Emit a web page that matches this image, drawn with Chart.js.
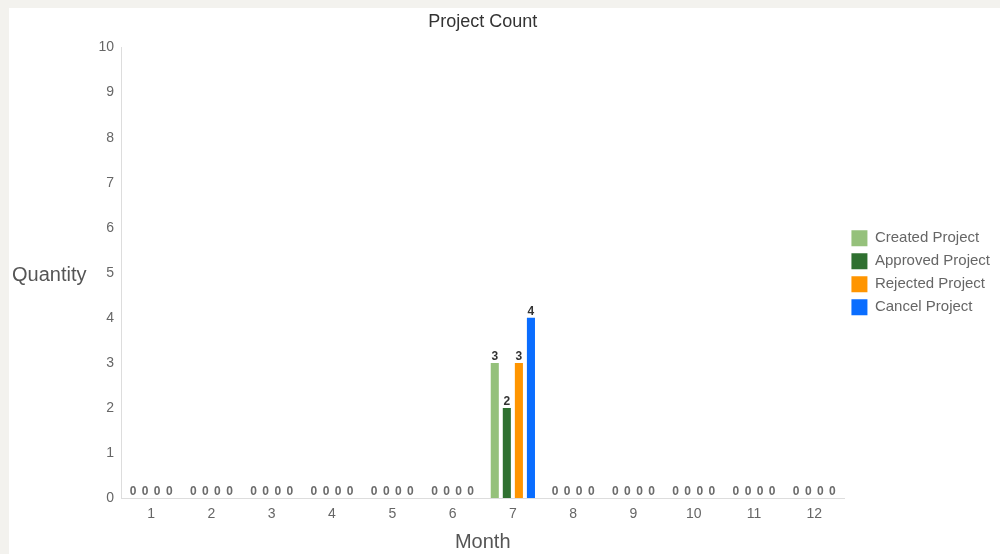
<!DOCTYPE html>
<html lang="en">
<head>
  <meta charset="UTF-8">
  <title>Project Count</title>
  <script src="https://cdn.jsdelivr.net/npm/chart.js@4.4.1/dist/chart.umd.min.js"></script>
  <style>
    html, body { margin: 0; padding: 0; background: #f3f2ee; }
    #panel { position: absolute; left: 9px; top: 8px; width: 991px; height: 546px; background: #fff; }
  </style>
</head>
<body>
  <div id="panel"><canvas id="projectChart"></canvas></div>

  <script>
    // monthly counts per project status
    const months = ['1', '2', '3', '4', '5', '6', '7', '8', '9', '10', '11', '12'];
    const createdProject  = [0, 0, 0, 0, 0, 0, 3, 0, 0, 0, 0, 0];
    const approvedProject = [0, 0, 0, 0, 0, 0, 2, 0, 0, 0, 0, 0];
    const rejectedProject = [0, 0, 0, 0, 0, 0, 3, 0, 0, 0, 0, 0];
    const cancelProject   = [0, 0, 0, 0, 0, 0, 4, 0, 0, 0, 0, 0];
    const yMin = 0, yMax = 10, yStep = 1;

    const FONT = "'Liberation Sans', Arial, Helvetica, sans-serif";

    // value printed on top of every bar (zeros sit on the axis)
    const barValues = {
      id: 'barValues',
      afterDatasetsDraw(chart) {
        const ctx = chart.ctx;
        ctx.save();
        ctx.font = 'bold 12px ' + FONT;
        ctx.textAlign = 'center';
        ctx.textBaseline = 'bottom';
        chart.data.datasets.forEach((ds, i) => {
          chart.getDatasetMeta(i).data.forEach((bar, j) => {
            const v = ds.data[j];
            ctx.fillStyle = v === 0 ? '#6b6b6b' : '#333';
            ctx.fillText(String(v), bar.x, bar.y);
          });
        });
        ctx.restore();
      }
    };

    // horizontal y axis caption on the left
    const sideCaption = {
      id: 'sideCaption',
      afterDraw(chart) {
        const ctx = chart.ctx;
        const a = chart.chartArea;
        ctx.save();
        ctx.font = '20px ' + FONT;
        ctx.fillStyle = '#555';
        ctx.textAlign = 'left';
        ctx.textBaseline = 'middle';
        ctx.fillText('Quantity', 3, (a.top + a.bottom) / 2 + 3);
        ctx.restore();
      }
    };

    const ctx = document.getElementById('projectChart').getContext('2d');
    new Chart(ctx, {
      type: 'bar',
      data: {
        labels: months,
        datasets: [
          { label: 'Created Project',  data: createdProject,  backgroundColor: '#95c17b' },
          { label: 'Approved Project', data: approvedProject, backgroundColor: '#2f7030' },
          { label: 'Rejected Project', data: rejectedProject, backgroundColor: '#ff9500' },
          { label: 'Cancel Project',   data: cancelProject,   backgroundColor: '#0a6dff' }
        ]
      },
      options: {
        responsive: true,
        maintainAspectRatio: false,
        animation: false,
        datasets: {
          bar: { categoryPercentage: 0.8, barPercentage: 0.67, borderWidth: 0 }
        },
        layout: { padding: 0 },
        plugins: {
          title: {
            display: true,
            text: 'Project Count',
            fullSize: false,
            color: '#333',
            font: { family: FONT, size: 18, weight: 'normal' },
            padding: { top: 3, bottom: 15 }
          },
          legend: {
            position: 'right',
            fullSize: false,
            labels: {
              color: '#666',
              font: { family: FONT, size: 15 },
              boxWidth: 16,
              boxHeight: 16,
              padding: 7
            }
          },
          tooltip: { enabled: false }
        },
        scales: {
          x: {
            grid: { display: false, drawTicks: false },
            border: { display: true, color: '#ddd' },
            ticks: { color: '#666', font: { family: FONT, size: 14 }, padding: 8 },
            title: {
              display: true,
              text: 'Month',
              color: '#555',
              font: { family: FONT, size: 20 },
              padding: { top: 0, bottom: 0 }
            },
            afterFit(scale) { scale.height = 56; }
          },
          y: {
            min: yMin,
            max: yMax,
            grid: { display: false, drawTicks: false },
            border: { display: true, color: '#ddd' },
            ticks: { stepSize: yStep, color: '#666', font: { family: FONT, size: 14 }, padding: 7 },
            afterFit(scale) { scale.width = 112; }
          }
        }
      },
      plugins: [barValues, sideCaption]
    });
  </script>
</body>
</html>
